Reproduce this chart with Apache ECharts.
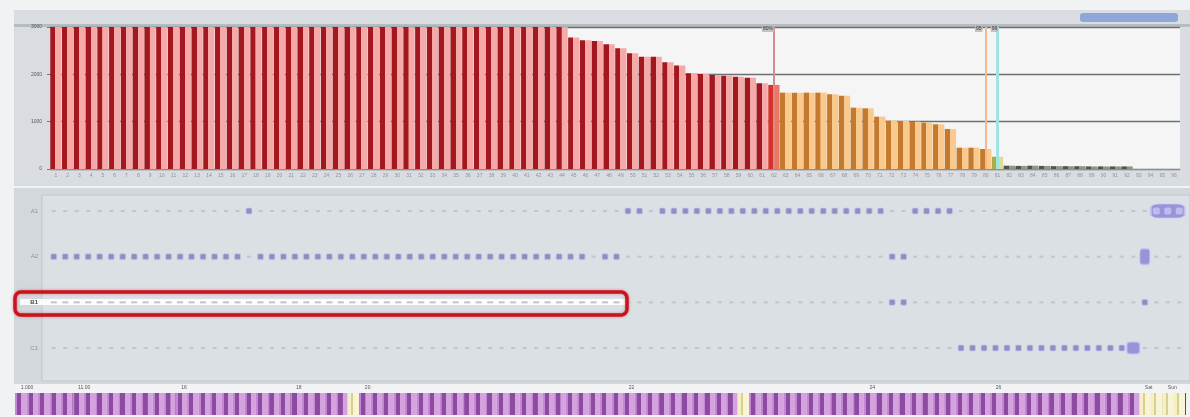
<!DOCTYPE html>
<html>
<head>
<meta charset="utf-8">
<script src="https://cdn.jsdelivr.net/npm/echarts@6/dist/echarts.min.js"></script>
<style>
  html, body { margin: 0; padding: 0; background: #f1f2f3; }
  #chart { width: 1190px; height: 417px; }
</style>
</head>
<body>
<div id="chart"></div>
<script>
// ---- top pareto bars ----
const categories = ['1','2','3','4','5','6','7','8','9','10','11','12','13','14','15','16','17','18','19','20',
  '21','22','23','24','25','26','27','28','29','30','31','32','33','34','35','36','37','38','39','40',
  '41','42','43','44','45','46','47','48','49','50','51','52','53','54','55','56','57','58','59','60',
  '61','62','63','64','65','66','67','68','69','70','71','72','73','74','75','76','77','78','79','80',
  '81','82','83','84','85','86','87','88','89','90','91','92','93','94','95','96'];

const barValues = [
  3000, 3000, 3000, 3000, 3000, 3000, 3000, 3000, 3000, 3000, 3000,
  3000, 3000, 3000, 3000, 3000, 3000, 3000, 3000, 3000, 3000, 3000,
  3000, 3000, 3000, 3000, 3000, 3000, 3000, 3000, 3000, 3000, 3000,
  3000, 3000, 3000, 3000, 3000, 3000, 3000, 3000, 3000, 3000, 3000,
  2776, 2721, 2706, 2636, 2552, 2446, 2374, 2374, 2256, 2184, 2023, 2008,
  1987, 1972, 1951, 1930, 1812, 1776,
  1613, 1613, 1613, 1613, 1580, 1550, 1296, 1282, 1106, 1021, 1015, 1000,
  979, 945, 846, 450, 450, 423,
  260,
  70, 65, 70, 65, 60, 60, 60, 55, 55, 55, 55,
  0, 0, 0, 0
];

// r = class A, h = last A item, o = class B, y = cut-off item, g = class C
const barClass = ('rrrrrrrrrrrrrrrrrrrrrrrrrrrrrrrrrrrrrrrrrrrrrrrrrrrrrrrrrrrrr' +
  'h' + 'oooooooooooooooooo' + 'y' + 'ggggggggggggggg').split('');

const yTickValues = [0, 1000, 2000, 3000];

// cut-off lines: [category, label]
const cutLines = [['62', '80%'], ['80', '95'], ['81', '99']];

// ---- lower status rows ----
const rowLabels = ['A1', 'A2', 'B1', 'C1'];
const rowActive = [
  [17, 50, 51, 53, 54, 55, 56, 57, 58, 59, 60, 61, 62, 63, 64, 65, 66, 67, 68, 69, 70, 71, 72, 75, 76, 77, 78],
  [0, 1, 2, 3, 4, 5, 6, 7, 8, 9, 10, 11, 12, 13, 14, 15, 16, 18, 19, 20, 21, 22, 23, 24, 25, 26, 27, 28,
   29, 30, 31, 32, 33, 34, 35, 36, 37, 38, 39, 40, 41, 42, 43, 44, 45, 46, 48, 49, 73, 74],
  [73, 74, 95],
  [79, 80, 81, 82, 83, 84, 85, 86, 87, 88, 89, 90, 91, 92, 93]
];
const rowGroups = [[96, 97, 98], [95], [], [94]];
const slotCount = 99;
const selectedRow = 2;
const selectedUpTo = 49;

// ---- bottom timeline strip ----
const stripTypes = [
  0,0,0,0,0,0,0,0,0,0,0,0,0,0,0,0,0,0,0,0,0,0,0,0,0,0,0,0,0,1,
  0,0,0,0,0,0,0,0,0,0,0,0,0,0,0,0,0,0,0,0,0,0,0,0,0,0,0,0,0,0,
  0,0,0,1,0,0,0,0,0,0,0,0,0,0,0,0,0,0,0,0,0,0,0,0,0,0,0,0,0,0,
  0,0,0,0,0,0,0,0,1,1,1,1
];
const headerLabels = [[0, '1.000'], [5, '11.00'], [14, '16'], [24, '18'], [30, '20'],
  [53, '22'], [74, '24'], [85, '26'], [98, 'Sat'], [100, 'Sun']];

// ---------- build ----------
const G = echarts.graphic;
function stripe(dark, light, split) {
  return new G.LinearGradient(0, 0, 1, 0, [
    { offset: 0, color: dark }, { offset: split, color: dark },
    { offset: split + 0.01, color: light }, { offset: 1, color: light }
  ]);
}
const barStyles = {
  r: stripe('#a2181e', '#f6a9a9', 0.45),
  h: stripe('#d6342a', '#ef7563', 0.45),
  o: stripe('#c47a2e', '#fac98e', 0.45),
  y: stripe('#b0ab4a', '#dfdc9a', 0.45),
  g: stripe('#4f5549', '#8f9687', 0.45)
};
const barData = barValues.map((v, i) => ({ value: v, itemStyle: { color: barStyles[barClass[i]] } }));

const markLineColors = ['#d98a8a', '#f3b88c', '#9fe3e3'];
const markLineData = cutLines.map((c, i) => ({
  xAxis: c[0],
  lineStyle: { color: markLineColors[i], width: i === 2 ? 3 : 2, type: 'solid' },
  label: {
    show: true, formatter: c[1], position: 'end', fontSize: 5, color: '#333',
    backgroundColor: 'rgba(190,190,190,0.9)', padding: [1, 1],
    offset: [i === 1 ? -7 : (i === 2 ? -3 : -6), 10]
  }
}));

const faint = [], active = [], selected = [];
rowActive.forEach((list, r) => {
  for (let i = 0; i < slotCount; i++) {
    if (list.indexOf(i) >= 0) { active.push([i, rowLabels[r]]); continue; }
    if (rowGroups[r].indexOf(i) >= 0) continue;
    if (r === selectedRow && i <= selectedUpTo) selected.push([i, rowLabels[r]]);
    else faint.push([i, rowLabels[r]]);
  }
});
const groupBoxes = [], groupDots = [];
rowGroups.forEach((list, r) => {
  if (!list.length) return;
  const mid = list[Math.floor(list.length / 2)];
  groupBoxes.push({
    value: [mid, rowLabels[r]],
    symbolSize: list.length > 1 ? [34, 14] : (r === 1 ? [10, 16] : [13, 12])
  });
  if (list.length > 1) list.forEach(i => groupDots.push([i, rowLabels[r]]));
});

const boundarySet = headerLabels.map(h => h[0]);
const stripNames = stripTypes.map(() => '');
headerLabels.forEach(h => { stripNames[h[0]] = h[1]; });
const purpleCell = new G.LinearGradient(0, 0, 1, 0, [
  { offset: 0, color: '#c487d4' }, { offset: 0.18, color: '#c487d4' },
  { offset: 0.19, color: '#8c4aa0' }, { offset: 0.55, color: '#8c4aa0' },
  { offset: 0.56, color: '#d3a2df' }, { offset: 1, color: '#d3a2df' }
]);
const yellowCell = new G.LinearGradient(0, 0, 1, 0, [
  { offset: 0, color: '#f4efc4' }, { offset: 0.3, color: '#f4efc4' },
  { offset: 0.31, color: '#d8cf92' }, { offset: 0.5, color: '#d8cf92' },
  { offset: 0.51, color: '#f8f4d6' }, { offset: 1, color: '#f8f4d6' }
]);
const stripData = stripTypes.map(t => ({ value: 1, itemStyle: { color: t ? yellowCell : purpleCell } }));

const chart = echarts.init(document.getElementById('chart'));
chart.setOption({
  animation: false,
  backgroundColor: '#f1f2f3',
  textStyle: { fontFamily: 'Liberation Sans, Arial, sans-serif' },
  graphic: [
    { type: 'rect', z: -10, shape: { x: 14, y: 10, width: 1176, height: 176 }, style: { fill: '#d9dde1' } },
    { type: 'rect', z: -9, shape: { x: 14, y: 24, width: 1176, height: 3 }, style: { fill: '#b7bcc1' } },
    { type: 'rect', z: -9, shape: { x: 1080, y: 13, width: 98, height: 9, r: 3 }, style: { fill: '#8ea6d8' } },
    { type: 'rect', z: -10, shape: { x: 14, y: 188, width: 1176, height: 196 }, style: { fill: '#d3d8dd' } },
    { type: 'rect', z: -9, shape: { x: 42, y: 195, width: 1148, height: 186 }, style: { fill: '#dbe0e5', stroke: '#c2c7cc', lineWidth: 1 } },
    { type: 'rect', z: -9, shape: { x: 15, y: 384, width: 1170, height: 9 }, style: { fill: '#f3f3f5' } },
    { type: 'rect', z: -8, shape: { x: 20, y: 299, width: 605, height: 6 }, style: { fill: 'rgba(255,255,255,0.9)' } },
    { type: 'rect', z: 100, shape: { x: 15, y: 292, width: 612, height: 23, r: 6 },
      style: { fill: 'none', stroke: '#c8141e', lineWidth: 3.5, shadowBlur: 3, shadowColor: 'rgba(200,20,30,0.5)' } }
  ],
  grid: [
    { left: 50, top: 27, width: 1130, height: 142, show: true, backgroundColor: '#f5f5f5', borderWidth: 0 },
    { left: 48, top: 211, width: 1137, height: 137 },
    { left: 15, top: 393, width: 1170, height: 22 }
  ],
  xAxis: [
    { gridIndex: 0, type: 'category', data: categories,
      axisLine: { lineStyle: { color: '#8c9096' } }, axisTick: { show: false },
      axisLabel: { interval: 0, fontSize: 5, color: '#8e949c', margin: 4 } },
    { gridIndex: 1, type: 'value', min: -0.5, max: slotCount - 0.5, show: false },
    { gridIndex: 2, type: 'category', data: stripNames, position: 'top',
      axisLine: { show: false },
      axisTick: { show: true, length: 9, interval: (i) => boundarySet.indexOf(i) >= 0, lineStyle: { color: '#555' } },
      splitLine: { show: true, interval: (i) => boundarySet.indexOf(i) >= 0, lineStyle: { color: '#6a3a7a', width: 1 } },
      axisLabel: { interval: (i, v) => v !== '', align: 'left', fontSize: 5, color: '#555', margin: 3 } }
  ],
  yAxis: [
    { gridIndex: 0, type: 'value', min: 0, max: 3000, interval: 1000,
      axisLabel: { fontSize: 5, color: '#555', margin: 8, customValues: yTickValues, formatter: (v) => String(v) },
      axisLine: { show: false }, axisTick: { show: true, length: 3, lineStyle: { color: '#777' } },
      splitLine: { lineStyle: { color: '#6c6f73', width: 1.3 } } },
    { gridIndex: 1, type: 'category', data: rowLabels, inverse: true, boundaryGap: false,
      axisLine: { show: false }, axisTick: { show: false }, splitLine: { show: false },
      axisLabel: { fontSize: 6, color: '#8a8f96', margin: 10,
        formatter: (v, i) => i === selectedRow ? '{b|' + v + '}' : v,
        rich: { b: { fontSize: 6, fontWeight: 'bold', color: '#444' } } } },
    { gridIndex: 2, type: 'value', min: 0, max: 1, show: false }
  ],
  series: [
    { type: 'line', xAxisIndex: 0, yAxisIndex: 0, data: [], z: 1,
      markLine: { silent: true, symbol: 'none', data: markLineData } },
    { type: 'bar', xAxisIndex: 0, yAxisIndex: 0, z: 3, data: barData, barCategoryGap: '4%' },
    { type: 'scatter', xAxisIndex: 1, yAxisIndex: 1, data: faint, symbol: 'rect', symbolSize: [4, 2],
      itemStyle: { color: 'rgba(125,125,160,0.35)' }, z: 2 },
    { type: 'scatter', xAxisIndex: 1, yAxisIndex: 1, data: selected, symbol: 'rect', symbolSize: [6, 2],
      itemStyle: { color: 'rgba(120,125,150,0.55)' }, z: 3 },
    { type: 'scatter', xAxisIndex: 1, yAxisIndex: 1, data: active, symbol: 'roundRect', symbolSize: 6,
      itemStyle: { color: '#7f78b6', borderColor: 'rgba(200,196,240,0.9)', borderWidth: 1.2 }, z: 4 },
    { type: 'scatter', xAxisIndex: 1, yAxisIndex: 1, data: groupBoxes, symbol: 'roundRect',
      itemStyle: { color: '#8a80d4', borderColor: 'rgba(200,196,245,0.9)', borderWidth: 1.5 }, z: 5 },
    { type: 'scatter', xAxisIndex: 1, yAxisIndex: 1, data: groupDots, symbol: 'roundRect', symbolSize: 7,
      itemStyle: { color: '#c9c4f2' }, z: 6 },
    { type: 'bar', xAxisIndex: 2, yAxisIndex: 2, data: stripData, barCategoryGap: 0, z: 2 }
  ]
});
</script>
</body>
</html>
